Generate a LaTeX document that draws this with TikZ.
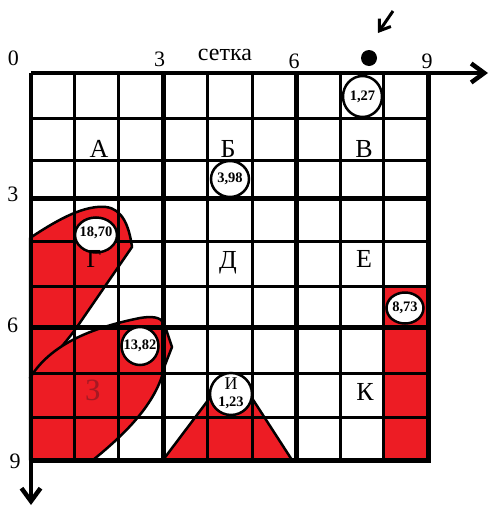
\documentclass[tikz,border=0pt]{standalone}
\usepackage{fontspec}
\setmainfont{Liberation Serif}
\usetikzlibrary{arrows.meta,shapes.geometric}
\definecolor{pred}{RGB}{237,28,36}
\definecolor{zred}{RGB}{165,25,35}
\begin{document}
\begin{tikzpicture}[x=1pt,y=-1pt,
  gthin/.style={line width=3pt,line cap=rect},
  gthick/.style={line width=5pt,line cap=rect},
  axln/.style={line width=4.5pt,-{Straight Barb[length=13pt,width=19pt]}},
  redshape/.style={fill=pred,draw=black,line width=2.5pt,line join=round},
  bub/.style={ellipse,draw=black,fill=white,line width=2.5pt,inner sep=0pt},
  num/.style={font=\fontsize{14.5}{14.5}\selectfont\bfseries,inner sep=0pt},
  lett/.style={font=\fontsize{26}{26}\selectfont,anchor=base,inner sep=0pt},
  axl/.style={font=\fontsize{22}{22}\selectfont,anchor=base,inner sep=0pt}]
\useasboundingbox (0,0) rectangle (490,509);
\fill[white] (0,0) rectangle (490,509);
% red regions
\path[redshape] (30,238) .. controls (60,218) and (85,205) .. (106,207)
  .. controls (122,209) and (129,225) .. (132,247) -- (77,327)
  .. controls (62,348) and (45,365) .. (30,378) -- cycle;
\path[redshape] (30,378) .. controls (50,345) and (90,328) .. (140,318)
  .. controls (152,316) and (160,317) .. (164,323) -- (172,347) -- (165,365)
  .. controls (158,400) and (130,430) .. (93,460) -- (30,460) -- cycle;
\path[redshape] (163,460) -- (212,395) -- (250,395) -- (292,460) -- cycle;
\fill[pred] (383,285) rectangle (428,460);
% grid
\foreach \x in {74,118,207,252,340,383} \draw[gthin] (\x,73) -- (\x,460);
\foreach \x in {163,296,428} \draw[gthick] (\x,73) -- (\x,460);
\foreach \y in {118,160,241,286,373,417} \draw[gthin] (31,\y) -- (428,\y);
\foreach \y in {198,327,460} \draw[gthick] (31,\y) -- (428,\y);
% axes
\coordinate (o) at (31,73);
\coordinate (xe) at (488,73);
\coordinate (ye) at (31,505);
\draw[axln] (o) -- (xe);
\draw[axln] (o) -- (ye);
% dot and small arrow
\node[circle,fill=black,minimum size=16pt,inner sep=0pt] (dot) at (369,58) {};
\coordinate (ar0) at (393,11);
\coordinate (ar1) at (378,33);
\draw[line width=3pt,-{Straight Barb[length=10pt,width=14pt]}] (ar0) -- (ar1);
% axis labels
\node[axl] (n0) at (13.5,65) {0};
\node[axl] (n3) at (159.5,66.5) {3};
\node[axl] (n6) at (294,68) {6};
\node[axl] (n9) at (427,68) {9};
\node[font=\fontsize{24}{24}\selectfont,anchor=base,inner sep=0pt] (set) at (225,60) {сетка};
\node[axl] (m3) at (13,201.5) {3};
\node[axl] (m6) at (12.5,332) {6};
\node[axl] (m9) at (15,468) {9};
% bubbles
\node[bub,minimum width=39pt,minimum height=41pt] (c127) at (362.5,96.5) {};
\node[num] (t127) at (c127) {1,27};
\node[bub,minimum width=38pt,minimum height=36pt] (c398) at (230,179) {};
\node[num] (t398) at (c398) {3,98};
\node[bub,minimum width=42pt,minimum height=35pt] (c1870) at (96,235) {};
\node[num] (t1870) at (96,233) {18,70};
\node[bub,minimum width=37pt,minimum height=38pt] (c1382) at (140,346) {};
\node[num] (t1382) at (c1382) {13,82};
\node[bub,minimum width=37pt,minimum height=31pt] (c873) at (405,308) {};
\node[num] (t873) at (c873) {8,73};
\node[bub,minimum width=42pt,minimum height=42pt] (c123) at (231,394) {};
\node[font=\fontsize{18}{18}\selectfont,anchor=base,inner sep=0pt] (li) at (231,389) {И};
\node[num,anchor=base] (t123) at (231,406) {1,23};
% letters
\node[lett] (la) at (99,157) {А};
\node[lett] (lb) at (228,157) {Б};
\node[lett] (lv) at (364,157) {В};
\node[lett] (lg) at (94,267) {Г};
\node[lett] (ld) at (228,268) {Д};
\node[lett] (le) at (364,267) {Е};
\node[lett,font=\fontsize{31}{31}\selectfont,text=zred] (lz) at (93,400) {З};
\node[lett] (lk) at (365,400) {К};
\end{tikzpicture}
\end{document}
